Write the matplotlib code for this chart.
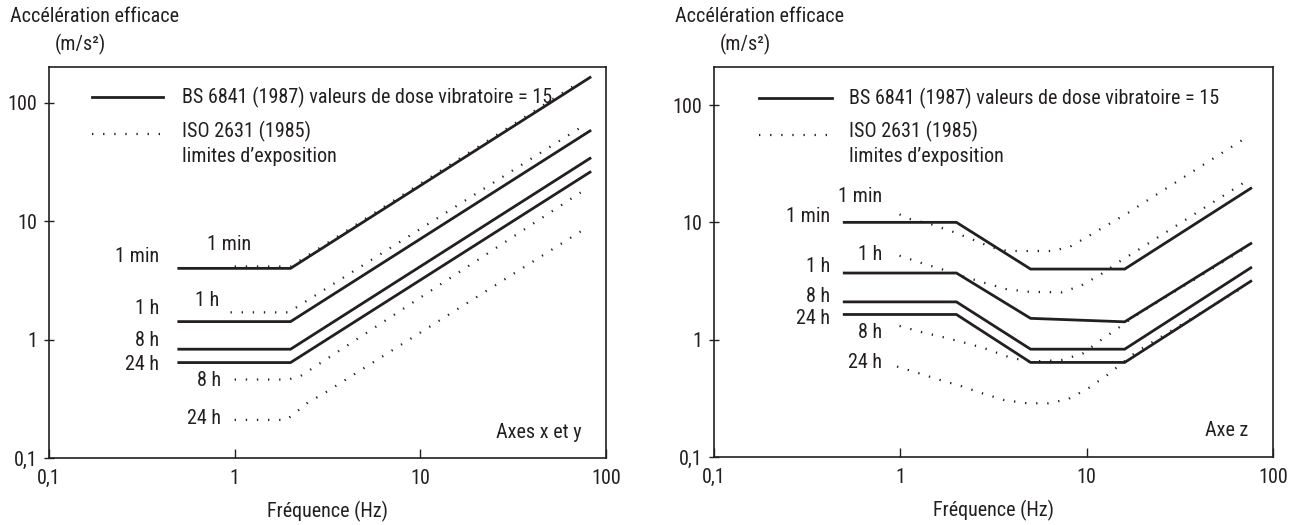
import matplotlib
matplotlib.use("Agg")
import matplotlib.pyplot as plt
from matplotlib.ticker import FixedLocator, FixedFormatter, NullLocator

plt.rcParams["font.family"] = ["Liberation Sans Narrow", "Roboto Condensed", "DejaVu Sans"]
plt.rcParams["font.stretch"] = "condensed"
plt.rcParams["font.size"] = 14.5

INK = "#231f20"

# --- BS 6841 (1987), axes x et y : valeurs de dose vibratoire = 15 ---
bs_xy_freq = [0.5, 2.0, 82.0]
bs_xy_1min = [4.0, 4.0, 164.0]
bs_xy_1h = [1.42, 1.42, 58.0]
bs_xy_8h = [0.83, 0.83, 34.0]
bs_xy_24h = [0.64, 0.64, 26.0]

# --- ISO 2631 (1985), axes x et y : limites d'exposition ---
iso_xy_1min_freq = [1.0, 2.0, 73.0]
iso_xy_1min = [4.15, 4.15, 152.0]
iso_xy_1h_freq = [0.95, 1.95, 73.0]
iso_xy_1h = [1.7, 1.7, 62.0]
iso_xy_8h_freq = [1.0, 1.95, 2.3, 73.0]
iso_xy_8h = [0.46, 0.46, 0.5, 17.5]
iso_xy_24h_freq = [1.0, 1.9, 2.15, 2.45, 3.1, 73.0]
iso_xy_24h = [0.21, 0.21, 0.245, 0.29, 0.36, 8.2]

# --- BS 6841 (1987), axe z ---
bs_z_freq = [0.5, 2.0, 5.0, 16.0, 76.0]
bs_z_1min = [10.0, 10.0, 4.0, 4.0, 19.5]
bs_z_1h = [3.7, 3.7, 1.52, 1.42, 6.6]
bs_z_8h = [2.1, 2.1, 0.83, 0.83, 4.1]
bs_z_24h = [1.64, 1.64, 0.64, 0.64, 3.15]

# --- ISO 2631 (1985), axe z ---
iso_z_1min_freq = [0.99, 1.12, 1.47, 1.92, 2.46, 3.12, 3.77, 6.6, 8.3, 10.6, 13.5, 17.2, 19.4, 68.0]
iso_z_1min = [11.7, 10.7, 9.6, 8.3, 7.1, 6.1, 5.7, 5.7, 6.3, 7.9, 9.9, 12.4, 14.1, 50.0]
iso_z_1h_freq = [0.99, 1.30, 1.66, 2.17, 2.86, 3.7, 4.9, 7.3, 9.3, 11.9, 15.2, 18.5, 72.0]
iso_z_1h = [5.2, 4.5, 4.0, 3.46, 3.04, 2.7, 2.56, 2.53, 2.88, 3.6, 4.7, 5.7, 22.5]
iso_z_8h_freq = [0.99, 1.30, 1.70, 2.23, 2.86, 3.83, 4.9, 7.3, 9.5, 11.9, 14.6, 17.8, 72.0]
iso_z_8h = [1.31, 1.16, 1.05, 0.94, 0.84, 0.71, 0.65, 0.67, 0.76, 0.99, 1.24, 1.56, 6.1]
iso_z_24h_freq = [0.96, 1.27, 1.66, 2.14, 2.74, 3.6, 4.8, 6.2, 7.9, 10.2, 12.9, 15.8, 18.5, 72.0]
iso_z_24h = [0.59, 0.515, 0.45, 0.40, 0.35, 0.306, 0.287, 0.287, 0.31, 0.385, 0.50, 0.647, 0.79, 2.9]

ticks = [0.1, 1, 10, 100]
tick_labels = ["0,1", "1", "10", "100"]

W, H = 1295, 525
fig = plt.figure(figsize=(W / 100, H / 100), dpi=100)


def px(x, y):
    """pixels (depuis le coin haut gauche) -> fraction de figure"""
    return x / W, 1 - y / H


def label(x, y, s, **kw):
    fx, fy = px(x, y)
    fig.text(fx, fy, s, color=INK, va="center", **kw)


SOLID = dict(color=INK, lw=2.0, solid_joinstyle="miter")
DOTTED = dict(color=INK, lw=1.6, linestyle=(0, (0.6, 4.4)))


def setup(ax, ytop):
    ax.set_xscale("log")
    ax.set_yscale("log")
    ax.set_xlim(0.1, 100)
    ax.set_ylim(0.1, ytop)
    for a in (ax.xaxis, ax.yaxis):
        a.set_major_locator(FixedLocator(ticks))
        a.set_major_formatter(FixedFormatter(tick_labels))
        a.set_minor_locator(NullLocator())
    ax.tick_params(axis="x", direction="in", length=6.5, width=1.0,
                   pad=8, colors=INK, labelsize=14.5)
    ax.tick_params(axis="y", direction="inout", length=6.5, width=1.0,
                   pad=5, colors=INK, labelsize=14.5)
    for sp in ax.spines.values():
        sp.set_color(INK)
        sp.set_linewidth(1.2)
    ax.set_xlabel("Fréquence (Hz)", color=INK, labelpad=9)


def legend_keys(ax, x0, x1, y_bs, y_iso):
    # petits segments de légende, en pixels de figure
    inv = ax.transAxes.inverted()
    for y, style in ((y_bs, SOLID), (y_iso, DOTTED)):
        (a0, b0) = inv.transform(fig.transFigure.transform(px(x0, y)))
        (a1, _) = inv.transform(fig.transFigure.transform(px(x1, y)))
        ax.plot([a0, a1], [b0, b0], transform=ax.transAxes, clip_on=False, **style)


# ---------------------------- axes x et y ----------------------------
ax1 = fig.add_axes([49 / W, 1 - 458 / H, (606 - 49) / W, (458 - 67) / H])
setup(ax1, 201)
for v in (bs_xy_1min, bs_xy_1h, bs_xy_8h, bs_xy_24h):
    ax1.plot(bs_xy_freq, v, **SOLID)
ax1.plot(iso_xy_1min_freq, iso_xy_1min, **DOTTED)
ax1.plot(iso_xy_1h_freq, iso_xy_1h, **DOTTED)
ax1.plot(iso_xy_8h_freq, iso_xy_8h, **DOTTED)
ax1.plot(iso_xy_24h_freq, iso_xy_24h, **DOTTED)

legend_keys(ax1, 92, 163, 97, 134)
label(182, 97, "BS 6841 (1987) valeurs de dose vibratoire = 15", ha="left")
label(182, 131, "ISO 2631 (1985)", ha="left")
label(182, 157, "limites d\u2019exposition", ha="left")

label(10, 17, "Accélération efficace", ha="left")
label(80, 44, "(m/s²)", ha="center")

label(159, 257, "1 min", ha="right")
label(229, 245, "1 min", ha="center")
label(159, 309, "1 h", ha="right")
label(207, 300, "1 h", ha="center")
label(159, 340, "8 h", ha="right")
label(159, 365, "24 h", ha="right")
label(209, 380, "8 h", ha="center")
label(204, 419, "24 h", ha="center")
label(539, 433, "Axes x et y", ha="center")

# ------------------------------ axe z --------------------------------
ax2 = fig.add_axes([714 / W, 1 - 457 / H, (1273 - 714) / W, (457 - 67) / H])
setup(ax2, 211)
for v in (bs_z_1min, bs_z_1h, bs_z_8h, bs_z_24h):
    ax2.plot(bs_z_freq, v, **SOLID)
ax2.plot(iso_z_1min_freq, iso_z_1min, **DOTTED)
ax2.plot(iso_z_1h_freq, iso_z_1h, **DOTTED)
ax2.plot(iso_z_8h_freq, iso_z_8h, **DOTTED)
ax2.plot(iso_z_24h_freq, iso_z_24h, **DOTTED)

legend_keys(ax2, 759, 832, 98, 135)
label(849, 98, "BS 6841 (1987) valeurs de dose vibratoire = 15", ha="left")
label(849, 131, "ISO 2631 (1985)", ha="left")
label(849, 156, "limites d\u2019exposition", ha="left")

label(675, 17, "Accélération efficace", ha="left")
label(745, 44, "(m/s²)", ha="center")

label(838, 196, "1 min", ha="left")
label(830, 217, "1 min", ha="right")
label(870, 254, "1 h", ha="center")
label(830, 267, "1 h", ha="right")
label(830, 297, "8 h", ha="right")
label(830, 318, "24 h", ha="right")
label(870, 333, "8 h", ha="center")
label(865, 363, "24 h", ha="center")
label(1248, 431, "Axe z", ha="right")

fig.savefig("out.png", dpi=100, facecolor="white")
